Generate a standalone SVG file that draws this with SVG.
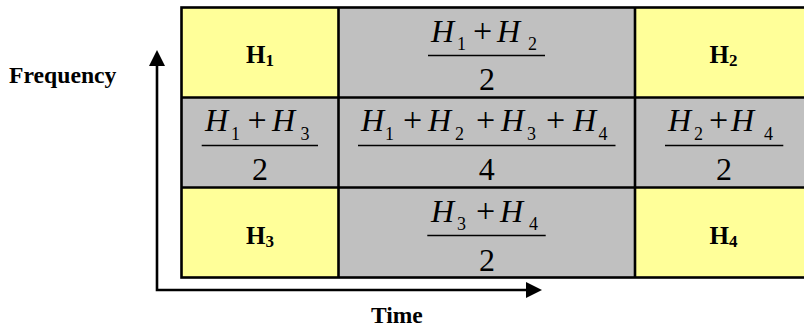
<svg xmlns="http://www.w3.org/2000/svg" width="804" height="330" viewBox="0 0 804 330">
<style>
.lbl{font-family:"Liberation Serif","Times New Roman",serif;font-weight:bold;fill:#000}
.h{font-family:"Liberation Serif","Times New Roman",serif;font-weight:bold;font-size:25px;fill:#000}
.hs{font-size:17px}
.mi{font-family:"Liberation Serif","Times New Roman",serif;font-style:italic;font-size:32px;fill:#000}
.mr{font-family:"Liberation Serif","Times New Roman",serif;font-size:32px;fill:#000}
.mp{font-family:"Liberation Serif","Times New Roman",serif;font-size:34px;fill:#000}
.ms{font-family:"Liberation Serif","Times New Roman",serif;font-size:18px;fill:#000}
.bar{stroke:#000;stroke-width:1.3}
.y{fill:#FFFF99}
.g{fill:#C0C0C0}
.grid{stroke:#000;stroke-width:2.6;fill:none}
.axis{stroke:#000;stroke-width:2.6;fill:none}
</style>
<defs>
<marker id="ah" viewBox="0 0 16 16" markerWidth="16" markerHeight="16" refX="0" refY="8" orient="auto-start-reverse" markerUnits="userSpaceOnUse">
<path d="M0,0 L16,8 L0,16 z" fill="#000"/>
</marker>
</defs>
<rect width="804" height="330" fill="#fff"/>

<text class="lbl" x="9" y="83" font-size="23.7">Frequency</text>
<text class="lbl" x="371" y="323" font-size="23.5">Time</text>

<g id="cell-h1"><rect class="y" x="181.5" y="7.5" width="157" height="90"/><text class="h" x="260" y="63" text-anchor="middle">H<tspan class="hs" dy="3">1</tspan></text></g>
<g id="cell-h12"><rect class="g" x="338.5" y="7.5" width="296.5" height="90"/>
<text class="mi" x="431" y="41.5">H</text><text class="ms" x="457" y="50">1</text><text class="mp" x="473" y="41.5">+</text><text class="mi" x="497" y="41.5">H</text><text class="ms" x="528" y="50">2</text>
<line class="bar" x1="428" y1="55.5" x2="545" y2="55.5"/>
<text class="mr" x="487" y="90" text-anchor="middle">2</text></g>
<g id="cell-h2"><rect class="y" x="635" y="7.5" width="175" height="90"/><text class="h" x="723.5" y="63" text-anchor="middle">H<tspan class="hs" dy="3">2</tspan></text></g>

<g id="cell-h13"><rect class="g" x="181.5" y="97.5" width="157" height="90"/>
<text class="mi" x="205" y="131">H</text><text class="ms" x="231" y="139.5">1</text><text class="mp" x="247.5" y="131">+</text><text class="mi" x="272" y="131">H</text><text class="ms" x="300.5" y="139.5">3</text>
<line class="bar" x1="201.7" y1="145.5" x2="318" y2="145.5"/>
<text class="mr" x="260" y="180" text-anchor="middle">2</text></g>
<g id="cell-h1234"><rect class="g" x="338.5" y="97.5" width="296.5" height="90"/>
<text class="mi" x="361" y="131">H</text><text class="ms" x="385" y="139.5">1</text><text class="mp" x="403" y="131">+</text><text class="mi" x="428" y="131">H</text><text class="ms" x="455" y="139.5">2</text><text class="mp" x="476" y="131">+</text><text class="mi" x="501" y="131">H</text><text class="ms" x="527" y="139.5">3</text><text class="mp" x="546" y="131">+</text><text class="mi" x="573" y="131">H</text><text class="ms" x="598.5" y="139.5">4</text>
<line class="bar" x1="358" y1="145.5" x2="615.5" y2="145.5"/>
<text class="mr" x="486.7" y="180" text-anchor="middle">4</text></g>
<g id="cell-h24"><rect class="g" x="635" y="97.5" width="175" height="90"/>
<text class="mi" x="668" y="131">H</text><text class="ms" x="694" y="139.5">2</text><text class="mp" x="709" y="131">+</text><text class="mi" x="731" y="131">H</text><text class="ms" x="764" y="139.5">4</text>
<line class="bar" x1="665" y1="145.5" x2="783.3" y2="145.5"/>
<text class="mr" x="724" y="180" text-anchor="middle">2</text></g>

<g id="cell-h3"><rect class="y" x="181.5" y="187.5" width="157" height="90"/><text class="h" x="260" y="243.5" text-anchor="middle">H<tspan class="hs" dy="3">3</tspan></text></g>
<g id="cell-h34"><rect class="g" x="338.5" y="187.5" width="296.5" height="90"/>
<text class="mi" x="431" y="221.5">H</text><text class="ms" x="457" y="230">3</text><text class="mp" x="476" y="221.5">+</text><text class="mi" x="500" y="221.5">H</text><text class="ms" x="529" y="230">4</text>
<line class="bar" x1="427.3" y1="235.5" x2="545.7" y2="235.5"/>
<text class="mr" x="487" y="270.5" text-anchor="middle">2</text></g>
<g id="cell-h4"><rect class="y" x="635" y="187.5" width="175" height="90"/><text class="h" x="723.5" y="243.5" text-anchor="middle">H<tspan class="hs" dy="3">4</tspan></text></g>

<g id="grid">
<rect class="grid" x="181.5" y="7.5" width="630" height="270"/>
<line class="grid" x1="181.5" y1="97.5" x2="812" y2="97.5"/>
<line class="grid" x1="181.5" y1="187.5" x2="812" y2="187.5"/>
<line class="grid" x1="338.5" y1="7.5" x2="338.5" y2="277.5"/>
<line class="grid" x1="635" y1="7.5" x2="635" y2="277.5"/>
</g>

<g id="connectors">
<path class="axis" d="M157,66 V290 H526" marker-start="url(#ah)" marker-end="url(#ah)"/>
</g>
</svg>
